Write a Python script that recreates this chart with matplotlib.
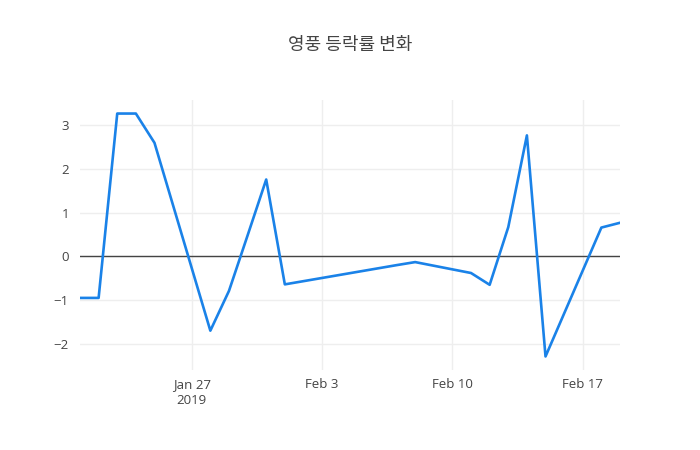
import matplotlib
matplotlib.use('Agg')
import matplotlib.pyplot as plt
import pandas as pd

# daily change rate (%)
dates = ['2019-01-21', '2019-01-22', '2019-01-23', '2019-01-24', '2019-01-25',
         '2019-01-28', '2019-01-29', '2019-01-30', '2019-01-31', '2019-02-01',
         '2019-02-07', '2019-02-08', '2019-02-11', '2019-02-12', '2019-02-13',
         '2019-02-14', '2019-02-15', '2019-02-18', '2019-02-19']
change = [-0.95, -0.95, 3.27, 3.27, 2.6,
          -1.7, -0.79, 0.48, 1.76, -0.64,
          -0.2, -0.13, -0.38, -0.65, 0.67,
          2.77, -2.29, 0.66, 0.77]
tick_dates = ['2019-01-27', '2019-02-03', '2019-02-10', '2019-02-17']
tick_labels = ['Jan 27\n2019', 'Feb 3', 'Feb 10', 'Feb 17']
title = '영풍 등락률 변화'

x = pd.to_datetime(dates)

plt.rcParams['font.family'] = ['Open Sans', 'DejaVu Sans']
fig = plt.figure(figsize=(7, 4.5), dpi=100)
ax = fig.add_axes([80/700, 80/450, 540/700, 270/450])

ax.plot(x, change, color='#1a82e8', linewidth=1.9, zorder=3)
ax.axhline(0, color='#444444', linewidth=1, zorder=2)

ax.set_xlim(x[0], x[-1])
ax.set_ylim(-2.6, 3.58)
ax.set_yticks([-2, -1, 0, 1, 2, 3])
ax.set_yticklabels(['\u22122', '\u22121', '0', '1', '2', '3'])
ax.set_xticks(pd.to_datetime(tick_dates))
ax.set_xticklabels(tick_labels, linespacing=1.3)

ax.grid(True, color='#eeeeee', linewidth=1, zorder=0)
for s in ax.spines.values():
    s.set_visible(False)
ax.tick_params(axis='both', length=0, colors='#444444', labelsize=9.5)
ax.tick_params(axis='x', pad=6)
ax.tick_params(axis='y', pad=8)

fig.text(0.5, 1 - 45/450, title, ha='center', va='center', fontsize=13,
         color='#444444', family=['Noto Sans CJK KR', 'DejaVu Sans'])

fig.savefig('out.png', dpi=100, facecolor='white')
